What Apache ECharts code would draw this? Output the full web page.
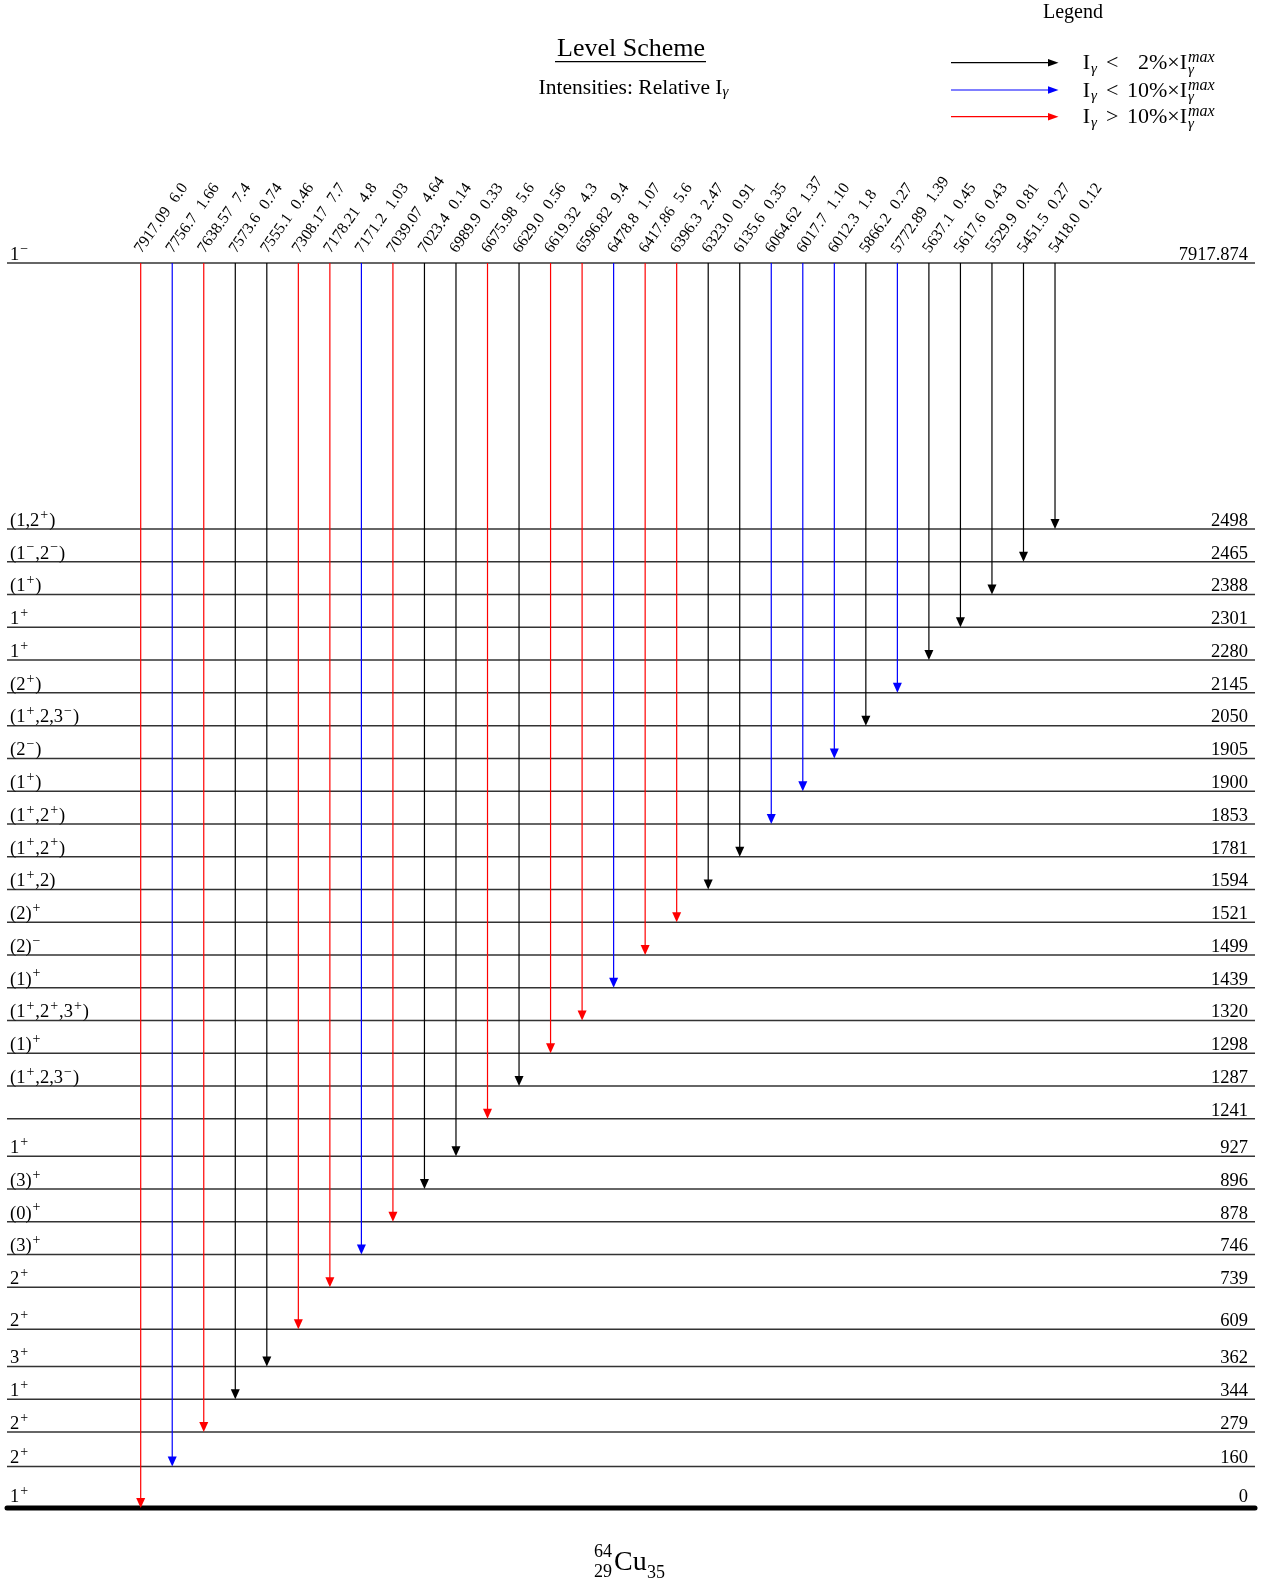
<!DOCTYPE html>
<html><head><meta charset="utf-8">
<script src="https://cdn.jsdelivr.net/npm/echarts@6/dist/echarts.min.js"></script>
<style>html,body{margin:0;padding:0;background:#fff}#chart{width:1267px;height:1583px}</style>
</head><body><div id="chart"></div>
<script>
// ---------- DATA ----------
const levelEnergies = [0, 160, 279, 344, 362, 609, 739, 746, 878, 896, 927, 1241, 1287, 1298, 1320, 1439, 1499, 1521, 1594, 1781, 1853, 1900, 1905, 2050, 2145, 2280, 2301, 2388, 2465, 2498, 7917.874];
const levelEnergyLabels = ['0','160','279','344','362','609','739','746','878','896','927','1241','1287','1298','1320','1439','1499','1521','1594','1781','1853','1900','1905','2050','2145','2280','2301','2388','2465','2498','7917.874'];
const levelSpins = ['1+','2+','2+','1+','3+','2+','2+','(3)+','(0)+','(3)+','1+','','(1+,2,3−)','(1)+','(1+,2+,3+)','(1)+','(2)−','(2)+','(1+,2)','(1+,2+)','(1+,2+)','(1+)','(2−)','(1+,2,3−)','(2+)','1+','1+','(1+)','(1−,2−)','(1,2+)','1−'];

const gammaEnergyLabels = ['7917.09','7756.7','7638.57','7573.6','7555.1','7308.17','7178.21','7171.2','7039.07','7023.4','6989.9','6675.98','6629.0','6619.32','6596.82','6478.8','6417.86','6396.3','6323.0','6135.6','6064.62','6017.7','6012.3','5866.2','5772.89','5637.1','5617.6','5529.9','5451.5','5418.0'];
const gammaIntensityLabels = ['6.0','1.66','7.4','0.74','0.46','7.7','4.8','1.03','4.64','0.14','0.33','5.6','0.56','4.3','9.4','1.07','5.6','2.47','0.91','0.35','1.37','1.10','1.8','0.27','1.39','0.45','0.43','0.81','0.27','0.12'];
const gammaInitialLevel = 7917.874;
const gammaFinalLevels = [0, 160, 279, 344, 362, 609, 739, 746, 878, 896, 927, 1241, 1287, 1298, 1320, 1439, 1499, 1521, 1594, 1781, 1853, 1900, 1905, 2050, 2145, 2280, 2301, 2388, 2465, 2498];

const legendLabels = ['I{sub|γ}{op|<}  {p|2}%×I', 'I{sub|γ}{op|<} 10%×I', 'I{sub|γ}{op|>} 10%×I'];
const nuclide = { A: '64', Z: '29', N: '35', symbol: 'Cu' };
const titleText = 'Level Scheme';
const subtitleText = 'Intensities: Relative I{sub|γ}';

// ---------- STYLE / LAYOUT ----------
const FONT = '"Liberation Serif","Times New Roman",serif';
const COLORS = { weak: '#000000', medium: '#0000ff', strong: '#ff0000' };
function gammaColor(I) { return I < 1 ? COLORS.weak : (I < 2 ? COLORS.medium : COLORS.strong); }

// display scale: slightly non-linear energy scale with a minimum spacing of one row,
// and a broken gap up to the capture state
function energyScale(e) { return 0.0049 * Math.pow(e, 1.094); }
const levelPos = [];
levelEnergies.forEach((e, i) => {
  if (i === 0) { levelPos.push(0); return; }
  const prevE = levelEnergies[i - 1];
  if (e - prevE > 2000) { levelPos.push(levelPos[i - 1] + 8.12); return; }
  levelPos.push(Math.max(levelPos[i - 1] + 1, energyScale(e)));
});
const TOP = levelPos[levelPos.length - 1];
const X_MIN = -4.2407, X_MAX = 35.343;

function levelIndexOf(E) {
  let best = 0, d = Infinity;
  levelEnergies.forEach((e, i) => { if (Math.abs(e - E) < d) { d = Math.abs(e - E); best = i; } });
  return best;
}
const topIdx = levelIndexOf(gammaInitialLevel);

const levelData = levelEnergies.map((e, i) => [levelPos[i], i]);
const gammaData = gammaEnergyLabels.map((g, i) => [i, levelPos[topIdx], levelPos[levelIndexOf(gammaFinalLevels[i])], i]);

function spinRich(s) { return s.replace(/([+−])/g, '{s|$1}'); }

const labelRich = {
  s: { fontSize: 14, fontFamily: FONT, lineHeight: 9, verticalAlign: 'top', fill: '#000', padding: [0, 1, 0, 1] }
};

function renderLevel(params, api) {
  const pos = api.value(0), i = api.value(1);
  const pL = api.coord([X_MIN, pos]);
  const pR = api.coord([X_MAX, pos]);
  const ground = i === 0;
  const children = [{
    type: 'line',
    shape: { x1: pL[0], y1: pL[1], x2: pR[0], y2: pR[1] },
    style: { stroke: ground ? '#000' : '#333', lineWidth: ground ? 5 : 1.5, lineCap: ground ? 'round' : 'butt' }
  }];
  const ty = pL[1] + (ground ? -0.5 : 2);
  if (levelSpins[i]) {
    children.push({
      type: 'text', x: pL[0] + 3, y: ty + 3,
      style: { text: spinRich(levelSpins[i]), rich: labelRich, fontSize: 18.5, fontFamily: FONT, lineHeight: 26,
        fill: '#000', align: 'left', verticalAlign: 'bottom', textAlign: 'left', textVerticalAlign: 'bottom' }
    });
  }
  children.push({
    type: 'text', x: pR[0] - 7, y: ty,
    style: { text: levelEnergyLabels[i], fontSize: 18.5, fontFamily: FONT, lineHeight: 20,
      fill: '#000', align: 'right', verticalAlign: 'bottom', textAlign: 'right', textVerticalAlign: 'bottom' }
  });
  return { type: 'group', children };
}

function renderGamma(params, api) {
  const col = api.value(0), i = api.value(3);
  const p0 = api.coord([col, api.value(1)]);
  const p1 = api.coord([col, api.value(2)]);
  const color = gammaColor(parseFloat(gammaIntensityLabels[i]));
  const headL = 10, headW = 4.5;
  return {
    type: 'group',
    children: [
      { type: 'line', shape: { x1: p0[0], y1: p0[1], x2: p1[0], y2: p1[1] - headL + 1 }, style: { stroke: color, lineWidth: 1.2 } },
      { type: 'polygon', shape: { points: [[p1[0] - headW, p1[1] - headL], [p1[0] + headW, p1[1] - headL], [p1[0], p1[1]]] }, style: { fill: color } },
      { type: 'text', x: p0[0] + 4, y: p0[1] - 7, rotation: 55 * Math.PI / 180,
        style: { text: gammaEnergyLabels[i] + ' {g|' + gammaIntensityLabels[i] + '}', rich: { g: { fontSize: 16, fontFamily: FONT, fill: '#000', padding: [0, 0, 0, 5] } },
          fontSize: 16, fontFamily: FONT, fill: '#000', align: 'left', verticalAlign: 'bottom', textAlign: 'left', textVerticalAlign: 'bottom' } }
    ]
  };
}

// ---------- GRAPHIC (title, legend, nuclide) ----------
const graphicEls = [];
function gtext(x, y, text, opts) {
  graphicEls.push({ type: 'text', x, y, silent: true, style: Object.assign({ text, fontFamily: FONT, fill: '#000', align: 'center', verticalAlign: 'middle', textAlign: 'center', textVerticalAlign: 'middle' }, opts || {}) });
}
gtext(631, 49.5, titleText, { fontSize: 26 });
graphicEls.push({ type: 'line', silent: true, shape: { x1: 555, y1: 61.7, x2: 706, y2: 61.7 }, style: { stroke: '#000', lineWidth: 1.2 } });
gtext(633.5, 88, subtitleText, { fontSize: 21.5, rich: { sub: { fontSize: 15, fontStyle: 'italic', fontFamily: FONT, verticalAlign: 'bottom', lineHeight: 14 } }, lineHeight: 24 });
gtext(1073, 12.5, 'Legend', { fontSize: 20 });
const legendRowY = [62.7, 90, 116.7];
const legendColors = [COLORS.weak, COLORS.medium, COLORS.strong];
legendLabels.forEach((t, k) => {
  const y = legendRowY[k], c = legendColors[k];
  graphicEls.push({ type: 'line', silent: true, shape: { x1: 951, y1: y, x2: 1049, y2: y }, style: { stroke: c, lineWidth: 1.2 } });
  graphicEls.push({ type: 'polygon', silent: true, shape: { points: [[1048, y - 3.8], [1048, y + 3.8], [1058.5, y]] }, style: { fill: c } });
  gtext(1187, y + 1, t, { fontSize: 22, align: 'right', textAlign: 'right', lineHeight: 26,
    rich: { sub: { fontSize: 15, fontStyle: 'italic', fontFamily: FONT, verticalAlign: 'bottom', lineHeight: 15, padding: [0, 9, 0, 1] },
            op: { fontSize: 22, fontFamily: FONT, padding: [0, 3, 0, 0] },
            p: { fontSize: 22, fontFamily: FONT, padding: [0, 0, 0, 5.5] } } });
  gtext(1188, y - 4.5, 'max', { fontSize: 16, fontStyle: 'italic', align: 'left', textAlign: 'left' });
  gtext(1188, y + 7.5, 'γ', { fontSize: 15, fontStyle: 'italic', align: 'left', textAlign: 'left' });
});
// nuclide label
gtext(612, 1552.7, nuclide.A, { fontSize: 18, align: 'right', textAlign: 'right' });
gtext(612, 1571.9, nuclide.Z, { fontSize: 18, align: 'right', textAlign: 'right' });
gtext(614, 1562.5, nuclide.symbol, { fontSize: 28, align: 'left', textAlign: 'left' });
gtext(647, 1572.9, nuclide.N, { fontSize: 18, align: 'left', textAlign: 'left' });

// ---------- CHART ----------
const chart = echarts.init(document.getElementById('chart'), null, { renderer: 'canvas' });
chart.setOption({
  backgroundColor: '#fff',
  animation: false,
  grid: { left: 7, right: 12, top: 263, bottom: 75, containLabel: false, outerBoundsMode: 'none' },
  xAxis: { type: 'value', min: X_MIN, max: X_MAX, show: false },
  yAxis: { type: 'value', min: 0, max: TOP, show: false },
  graphic: { elements: graphicEls },
  series: [
    { type: 'custom', name: 'levels', data: levelData, renderItem: renderLevel, clip: false, silent: true, z: 2,
      encode: { x: -1, y: 0 } },
    { type: 'custom', name: 'gammas', data: gammaData, renderItem: renderGamma, clip: false, silent: true, z: 3,
      encode: { x: 0, y: [1, 2] } }
  ]
});
</script></body></html>
